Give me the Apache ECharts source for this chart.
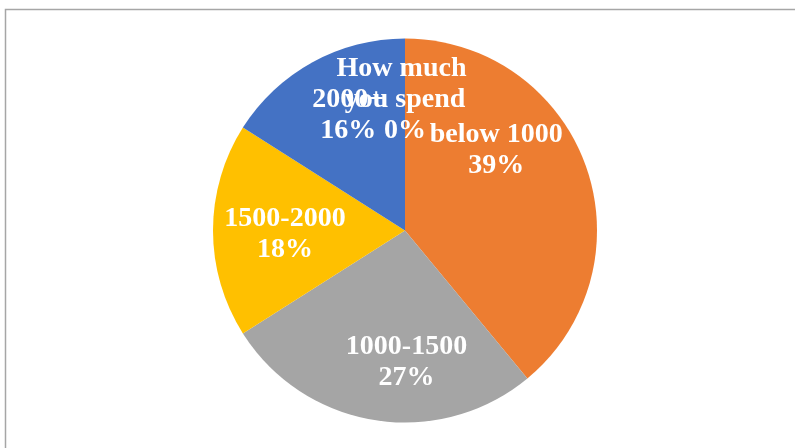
<!DOCTYPE html>
<html>
<head>
<meta charset="utf-8">
<script src="https://cdn.jsdelivr.net/npm/echarts@6/dist/echarts.min.js"></script>
<style>
html,body{margin:0;padding:0;background:#fff;}
#chart{width:795px;height:448px;}
</style>
</head>
<body>
<div id="chart"></div>
<script>
const categories = ['How much you spend', 'below 1000', '1000-1500', '1500-2000', '2000+'];
const values = [0, 39, 27, 18, 16];
const colors = ['#4472C4', '#ED7D31', '#A5A5A5', '#FFC000', '#4472C4'];
const labelOffsets = [[0, -35], [-2, -47], [17, 34], [-21, 4], [-9, -28]];

const labelFont = {
  color: '#ffffff',
  fontFamily: 'Liberation Serif',
  fontWeight: 'bold',
  fontSize: 28,
  lineHeight: 31
};

const chart = echarts.init(document.getElementById('chart'), null, {renderer: 'canvas'});
const data = categories.map((name, i) => ({
  name: name,
  value: values[i],
  itemStyle: {color: colors[i]},
  label: {offset: labelOffsets[i]}
}));
const fmt = (name, v) => name + '\n' + v + '%';

chart.setOption({
  backgroundColor: '#ffffff',
  animation: false,
  graphic: [{
    type: 'rect',
    shape: {x: 5.5, y: 9.5, width: 820, height: 460},
    style: {fill: 'none', stroke: '#a6a6a6', lineWidth: 1.5},
    silent: true,
    z: -1
  }],
  series: [{
    type: 'pie',
    center: [405, 230.5],
    radius: [0, 192],
    startAngle: 90,
    clockwise: true,
    avoidLabelOverlap: false,
    minShowLabelAngle: 0,
    data: data,
    itemStyle: {borderWidth: 0},
    label: Object.assign({
      show: true,
      position: 'inside',
      formatter: p => fmt(p.name, p.value),
      width: 145,
      overflow: 'break',
      align: 'center'
    }, labelFont),
    labelLine: {show: false},
    emphasis: {disabled: true}
  }]
});

// Labels of zero-value slices are not drawn by the pie itself; place them
// at the slice's own inside position taken from the series layout.
const seriesData = chart.getModel().getSeriesByIndex(0).getData();
const extra = [];
values.forEach((v, i) => {
  if (v !== 0) return;
  const lay = seriesData.getItemLayout(i);
  const mid = (lay.startAngle + lay.endAngle) / 2;
  const rr = (lay.r0 + lay.r) / 2;
  extra.push({
    type: 'text',
    x: lay.cx + rr * Math.cos(mid) + labelOffsets[i][0],
    y: lay.cy + rr * Math.sin(mid) + labelOffsets[i][1],
    z: 100,
    silent: true,
    style: {
      text: fmt(categories[i], v),
      fill: labelFont.color,
      fontFamily: labelFont.fontFamily,
      fontWeight: labelFont.fontWeight,
      fontSize: labelFont.fontSize,
      lineHeight: labelFont.lineHeight,
      width: 145,
      overflow: 'break',
      align: 'center',
      verticalAlign: 'middle'
    }
  });
});
chart.setOption({graphic: [{
  type: 'rect',
  shape: {x: 5.5, y: 9.5, width: 820, height: 460},
  style: {fill: 'none', stroke: '#a6a6a6', lineWidth: 1.5},
  silent: true,
  z: -1
}].concat(extra)}, {replaceMerge: ['graphic']});
</script>
</body>
</html>
